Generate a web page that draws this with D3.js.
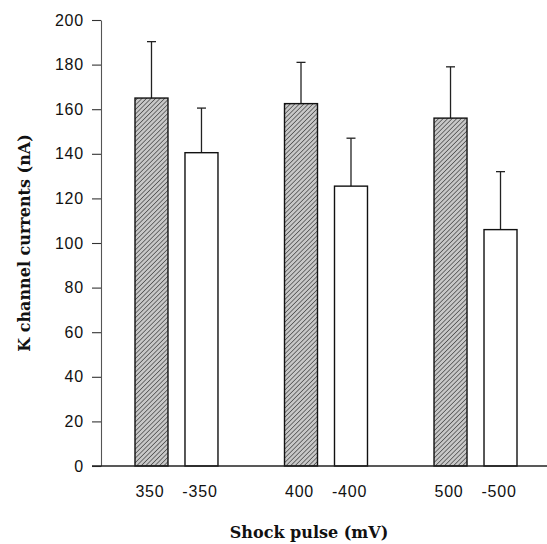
<!DOCTYPE html>
<html>
<head>
<meta charset="utf-8">
<script src="https://cdn.jsdelivr.net/npm/d3@7/dist/d3.min.js"></script>
<style>
  html, body { margin: 0; padding: 0; background: #fff; }
  svg { display: block; }
  .tick text { font-family: "Liberation Sans", Arial, sans-serif; }
</style>
</head>
<body>
<svg id="chart" width="547" height="544"></svg>
<script>
// Shock pulse amplitudes (mV), one group per magnitude
const groups = ["350", "400", "500"];
// Polarity within each group
const polarities = ["pos", "neg"];
// Bar labels under each bar
const barLabels = [["350", "-350"], ["400", "-400"], ["500", "-500"]];
// Mean K channel currents (nA)
const positiveMeans = [165, 162.5, 156];
const negativeMeans = [140.5, 125.5, 106];
// Standard deviations drawn as upper error bars (nA)
const positiveSD = [25.3, 18.5, 23];
const negativeSD = [20, 21.5, 26];
// Y axis ticks
const yTicks = [0, 20, 40, 60, 80, 100, 120, 140, 160, 180, 200];

const svg = d3.select("#chart");

const y = d3.scaleLinear().domain([0, 200]).range([466, 20]);

const xGroup = d3.scaleBand()
  .domain(groups)
  .range([103, 549])
  .paddingInner(0.445)
  .paddingOuter(0.214);

const xSub = d3.scaleBand()
  .domain(polarities)
  .range([0, xGroup.bandwidth()])
  .paddingInner(0.34)
  .paddingOuter(0);

// Diagonal hatch fill for the positive-polarity bars
const defs = svg.append("defs");
const pat = defs.append("pattern")
  .attr("id", "hatch")
  .attr("patternUnits", "userSpaceOnUse")
  .attr("width", 3.2)
  .attr("height", 3.2)
  .attr("patternTransform", "rotate(45)");
pat.append("rect").attr("width", 3.2).attr("height", 3.2).attr("fill", "#c8c8c8");
pat.append("line")
  .attr("x1", 0).attr("y1", 0).attr("x2", 0).attr("y2", 3.2)
  .attr("stroke", "#444").attr("stroke-width", 1.4);

// Flatten into one record per bar
const bars = [];
groups.forEach((g, i) => {
  bars.push({ group: g, pol: "pos", mean: positiveMeans[i], sd: positiveSD[i], label: barLabels[i][0] });
  bars.push({ group: g, pol: "neg", mean: negativeMeans[i], sd: negativeSD[i], label: barLabels[i][1] });
});
const barX = d => xGroup(d.group) + xSub(d.pol);
const barCx = d => barX(d) + xSub.bandwidth() / 2;

// Error bars (drawn first so the bar outline sits on top)
const err = svg.append("g").attr("stroke", "#222").attr("stroke-width", 1.3);
err.selectAll("line.stem").data(bars).join("line")
  .attr("class", "stem")
  .attr("x1", barCx).attr("x2", barCx)
  .attr("y1", d => y(d.mean)).attr("y2", d => y(d.mean + d.sd));
err.selectAll("line.cap").data(bars).join("line")
  .attr("class", "cap")
  .attr("x1", d => barCx(d) - 4.5).attr("x2", d => barCx(d) + 4.5)
  .attr("y1", d => y(d.mean + d.sd)).attr("y2", d => y(d.mean + d.sd));

// Bars
svg.append("g").selectAll("rect").data(bars).join("rect")
  .attr("x", barX)
  .attr("y", d => y(d.mean))
  .attr("width", xSub.bandwidth())
  .attr("height", d => y(0) - y(d.mean))
  .attr("fill", d => d.pol === "pos" ? "url(#hatch)" : "#fff")
  .attr("stroke", "#111")
  .attr("stroke-width", 1.4);

// Y axis
const yAxis = svg.append("g")
  .attr("transform", "translate(101,0)")
  .call(d3.axisLeft(y).tickValues(yTicks).tickSize(9).tickPadding(8).tickSizeOuter(0));
yAxis.select(".domain").attr("stroke", "#555").attr("stroke-width", 1.1);
yAxis.selectAll(".tick line").attr("stroke", "#333").attr("stroke-width", 1.1);
yAxis.selectAll(".tick text")
  .attr("font-size", 16)
  .attr("letter-spacing", 0.8)
  .attr("fill", "#111");

// X axis baseline
svg.append("line")
  .attr("x1", 92).attr("x2", 547)
  .attr("y1", y(0)).attr("y2", y(0))
  .attr("stroke", "#222").attr("stroke-width", 1.3);

// Bar labels
svg.append("g").selectAll("text").data(bars).join("text")
  .attr("x", d => barCx(d) - 1.5)
  .attr("y", 497)
  .attr("text-anchor", "middle")
  .attr("font-family", "'Liberation Sans', Arial, sans-serif")
  .attr("font-size", 16)
  .attr("letter-spacing", 0.8)
  .attr("fill", "#111")
  .text(d => d.label);

// Axis titles
svg.append("text")
  .attr("x", 309)
  .attr("y", 538)
  .attr("text-anchor", "middle")
  .attr("font-family", "'DejaVu Serif', serif")
  .attr("font-weight", "bold")
  .attr("font-size", 16)
  .attr("fill", "#111")
  .text("Shock pulse (mV)");

svg.append("text")
  .attr("transform", "translate(30,243) rotate(-90)")
  .attr("text-anchor", "middle")
  .attr("font-family", "'DejaVu Serif', serif")
  .attr("font-weight", "bold")
  .attr("font-size", 16)
  .attr("fill", "#111")
  .text("K channel currents (nA)");
</script>
</body>
</html>
